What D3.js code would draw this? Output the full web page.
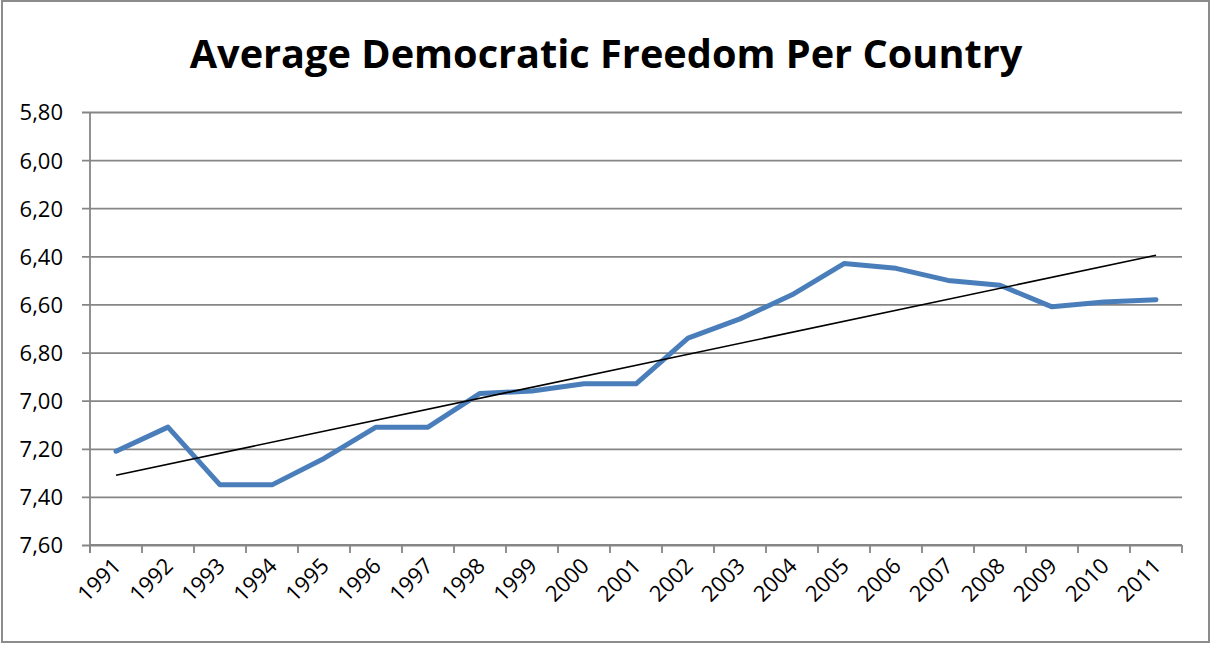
<!DOCTYPE html>
<html>
<head>
<meta charset="utf-8">
<script src="https://cdn.jsdelivr.net/npm/d3@7"></script>
<style>
  html, body { margin: 0; padding: 0; background: #fff; }
  svg { display: block; }
  text { font-family: "Open Sans", "Noto Sans", sans-serif; fill: #000; }
</style>
</head>
<body>
<svg id="chart" width="1212" height="646"></svg>
<script>
// Yearly average democratic freedom score
const years = ["1991","1992","1993","1994","1995","1996","1997","1998","1999","2000",
               "2001","2002","2003","2004","2005","2006","2007","2008","2009","2010","2011"];
const freedom = [7.21, 7.11, 7.35, 7.35, 7.24, 7.11, 7.11, 6.97, 6.96, 6.93,
                 6.93, 6.74, 6.66, 6.56, 6.43, 6.45, 6.50, 6.52, 6.61, 6.59, 6.58];
const yTicks = [5.8, 6.0, 6.2, 6.4, 6.6, 6.8, 7.0, 7.2, 7.4, 7.6];
const title = "Average Democratic Freedom Per Country";

const W = 1212, H = 646;
const plot = { left: 90, right: 1182, top: 112, bottom: 545 };
const svg = d3.select("#chart");

// Chart frame
svg.append("rect")
  .attr("x", 2).attr("y", 1).attr("width", W - 5).attr("height", H - 5)
  .attr("fill", "#fff").attr("stroke", "#8c8c8c").attr("stroke-width", 2);

const x = d3.scaleBand().domain(years).range([plot.left, plot.right]);
const y = d3.scaleLinear().domain([5.8, 7.6]).range([plot.top, plot.bottom]);
const cx = d => x(d) + x.bandwidth() / 2;

// Horizontal gridlines with outward ticks
const yAxis = svg.append("g")
  .attr("transform", `translate(${plot.left},0)`)
  .call(d3.axisLeft(y).tickValues(yTicks)
    .tickSize(-(plot.right - plot.left)).tickSizeOuter(0).tickPadding(0)
    .tickFormat(d => d3.format(".2f")(d).replace(".", ",")));
yAxis.select(".domain").remove();
yAxis.selectAll(".tick line").attr("x1", -8)
  .attr("stroke", "#868686").attr("stroke-width", 1.8);
yAxis.selectAll(".tick text")
  .attr("x", -27).attr("dy", "0.36em")
  .style("font-size", "22px").attr("fill", "#000");

// Vertical axis line
svg.append("line")
  .attr("x1", plot.left).attr("x2", plot.left)
  .attr("y1", plot.top).attr("y2", plot.bottom + 8)
  .attr("stroke", "#868686").attr("stroke-width", 1.8);

// Category axis: ticks between categories
const xAxis = svg.append("g")
  .attr("transform", `translate(0,${plot.bottom})`);
const bounds = years.map(d => x(d)).concat([plot.right]);
xAxis.selectAll("line.tick")
  .data(bounds).join("line")
  .attr("x1", d => d).attr("x2", d => d)
  .attr("y1", 0).attr("y2", 8)
  .attr("stroke", "#868686").attr("stroke-width", 1.8);
xAxis.append("line")
  .attr("x1", plot.left).attr("x2", plot.right)
  .attr("stroke", "#868686").attr("stroke-width", 1.8);
xAxis.selectAll("text")
  .data(years).join("text")
  .attr("transform", d => `translate(${cx(d) + 1},${17}) rotate(-45)`)
  .attr("text-anchor", "end")
  .attr("dy", "0.35em")
  .style("font-size", "22px")
  .text(d => d);

// Linear trendline (least squares over category index)
const n = freedom.length;
const mx = d3.mean(d3.range(n));
const my = d3.mean(freedom);
const slope = d3.sum(freedom, (v, i) => (i - mx) * (v - my)) /
              d3.sum(d3.range(n), i => (i - mx) * (i - mx));
const intercept = my - slope * mx;
const trend = [0, n - 1].map(i => ({ year: years[i], value: intercept + slope * i }));

// Data series
svg.append("path")
  .datum(freedom.map((v, i) => ({ year: years[i], value: v })))
  .attr("fill", "none")
  .attr("stroke", "#4a7ebb")
  .attr("stroke-width", 5)
  .attr("stroke-linejoin", "round")
  .attr("stroke-linecap", "round")
  .attr("d", d3.line().x(d => cx(d.year)).y(d => y(d.value)));

svg.append("path")
  .datum(trend)
  .attr("fill", "none")
  .attr("stroke", "#000")
  .attr("stroke-width", 1.6)
  .attr("d", d3.line().x(d => cx(d.year)).y(d => y(d.value)));

// Title
const t = svg.append("text")
  .attr("x", 606).attr("y", 68)
  .attr("text-anchor", "middle")
  .style("font-size", "42px").style("font-weight", "bold")
  .text(title);
const targetWidth = 832;
const w = t.node().getComputedTextLength();
t.style("font-size", (42 * targetWidth / w).toFixed(1) + "px");
</script>
</body>
</html>
